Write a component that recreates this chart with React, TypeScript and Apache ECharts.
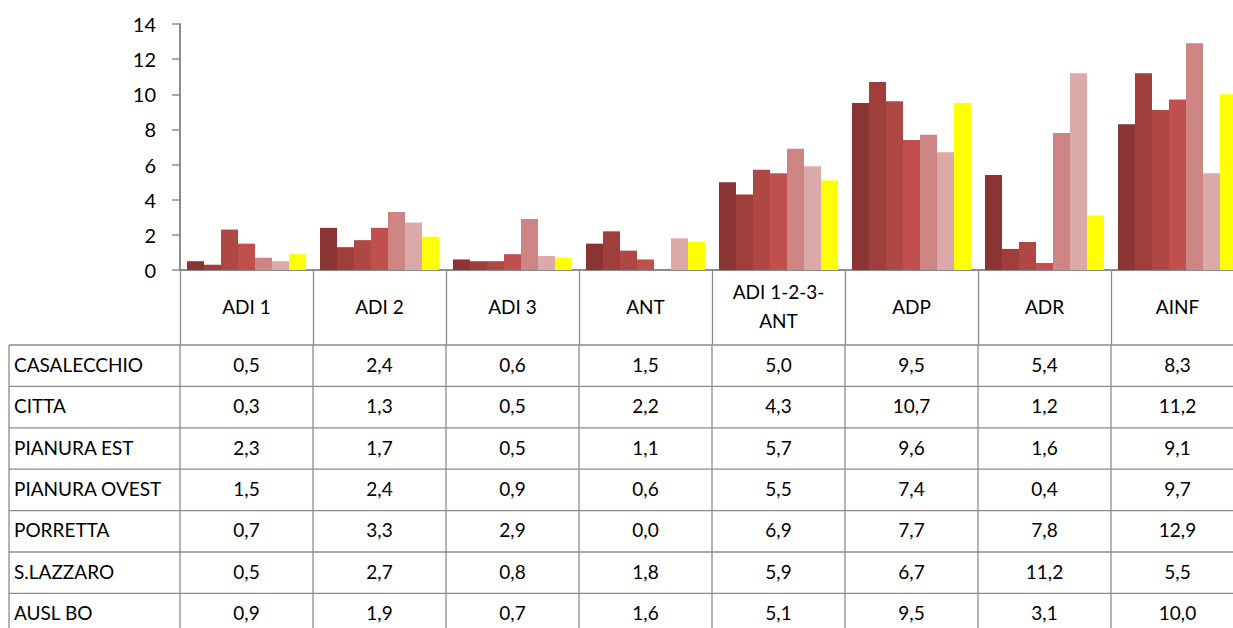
import React, { useEffect, useRef } from "react";
import * as echarts from "echarts";

const categories = ["ADI 1", "ADI 2", "ADI 3", "ANT", "ADI 1-2-3-\nANT", "ADP", "ADR", "AINF"];
const regions = ["CASALECCHIO", "CITTA", "PIANURA EST", "PIANURA OVEST", "PORRETTA", "S.LAZZARO", "AUSL BO"];
const casalecchio = [0.5, 2.4, 0.6, 1.5, 5.0, 9.5, 5.4, 8.3];
const citta = [0.3, 1.3, 0.5, 2.2, 4.3, 10.7, 1.2, 11.2];
const pianuraEst = [2.3, 1.7, 0.5, 1.1, 5.7, 9.6, 1.6, 9.1];
const pianuraOvest = [1.5, 2.4, 0.9, 0.6, 5.5, 7.4, 0.4, 9.7];
const porretta = [0.7, 3.3, 2.9, 0.0, 6.9, 7.7, 7.8, 12.9];
const sLazzaro = [0.5, 2.7, 0.8, 1.8, 5.9, 6.7, 11.2, 5.5];
const auslBo = [0.9, 1.9, 0.7, 1.6, 5.1, 9.5, 3.1, 10.0];
const seriesData = [casalecchio, citta, pianuraEst, pianuraOvest, porretta, sLazzaro, auslBo];
const colors = ["#8A3533", "#9E3F3C", "#AF4845", "#C0504D", "#CD8583", "#DAA9A8", "#FFFF00"];

const FONT = "Lato";
const GRID_LEFT = 180;
const GRID_TOP = 24;
const GRID_H = 246;
const COL_W = 133;
const GRID_W = COL_W * categories.length;
const HEADER_H = 75;
const ROW_H = 41.4;
const TABLE_LEFT = 9;
const LINE_COLOR = "#8C8C8C";
const CANVAS_W = GRID_LEFT + GRID_W + 10;

const fmt = (v: number) => v.toFixed(1).replace(".", ",");

export default function App() {
  const ref = useRef<HTMLDivElement>(null);
  useEffect(() => {
    if (!ref.current) return;
    const chart = echarts.init(ref.current, undefined, { renderer: "svg" });
    const tableTop = GRID_TOP + GRID_H + HEADER_H;
    const right = GRID_LEFT + GRID_W;
    const graphics: any[] = [];
    for (let r = 0; r <= regions.length; r++) {
      const y = tableTop + r * ROW_H;
      graphics.push({
        type: "line",
        shape: { x1: TABLE_LEFT, y1: y, x2: right, y2: y },
        style: { stroke: LINE_COLOR, lineWidth: 1.3 },
        silent: true,
      });
    }
    const vx = [TABLE_LEFT];
    for (let c = 0; c <= categories.length; c++) vx.push(GRID_LEFT + c * COL_W);
    vx.forEach((x) => {
      graphics.push({
        type: "line",
        shape: { x1: x, y1: tableTop, x2: x, y2: tableTop + regions.length * ROW_H },
        style: { stroke: LINE_COLOR, lineWidth: 1.3 },
        silent: true,
      });
    });
    regions.forEach((name, r) => {
      const cy = tableTop + r * ROW_H + ROW_H / 2 - 1.5;
      graphics.push({
        type: "text",
        x: TABLE_LEFT + 5,
        y: cy,
        style: { text: name, font: `19px ${FONT}`, fill: "#000", textAlign: "left", textVerticalAlign: "middle" },
        silent: true,
      });
      seriesData[r].forEach((v, c) => {
        graphics.push({
          type: "text",
          x: GRID_LEFT + c * COL_W + COL_W / 2,
          y: cy,
          style: { text: fmt(v), font: `19px ${FONT}`, fill: "#000", textAlign: "center", textVerticalAlign: "middle" },
          silent: true,
        });
      });
    });

    chart.setOption({
      animation: false,
      grid: { left: GRID_LEFT, top: GRID_TOP, width: GRID_W, height: GRID_H },
      xAxis: {
        type: "category",
        data: categories,
        axisLine: { lineStyle: { color: LINE_COLOR, width: 2 } },
        axisTick: { show: true, length: HEADER_H, lineStyle: { color: LINE_COLOR, width: 1.3 } },
        axisLabel: {
          color: "#000",
          fontFamily: FONT,
          fontSize: 19,
          margin: 36,
          lineHeight: 29,
          verticalAlign: "middle",
          interval: 0,
        },
      },
      yAxis: {
        type: "value",
        min: 0,
        max: 14,
        interval: 2,
        splitLine: { show: false },
        axisLine: { show: true, lineStyle: { color: LINE_COLOR, width: 2 } },
        axisTick: { show: true, length: 8, lineStyle: { color: LINE_COLOR, width: 1.5 } },
        axisLabel: { color: "#000", fontFamily: FONT, fontSize: 20, margin: 24 },
      },
      graphic: graphics,
      series: seriesData.map((d, i) => ({
        name: regions[i],
        type: "bar",
        data: d,
        barGap: "0%",
        barCategoryGap: "10.5%",
        itemStyle: { color: colors[i] },
      })),
    });
    return () => chart.dispose();
  }, []);
  return (
    <div style={{ position: "absolute", left: 0, top: 0, width: 1233, height: 628, overflow: "hidden", background: "#fff" }}>
      <div ref={ref} style={{ width: CANVAS_W, height: 628 }} />
    </div>
  );
}
